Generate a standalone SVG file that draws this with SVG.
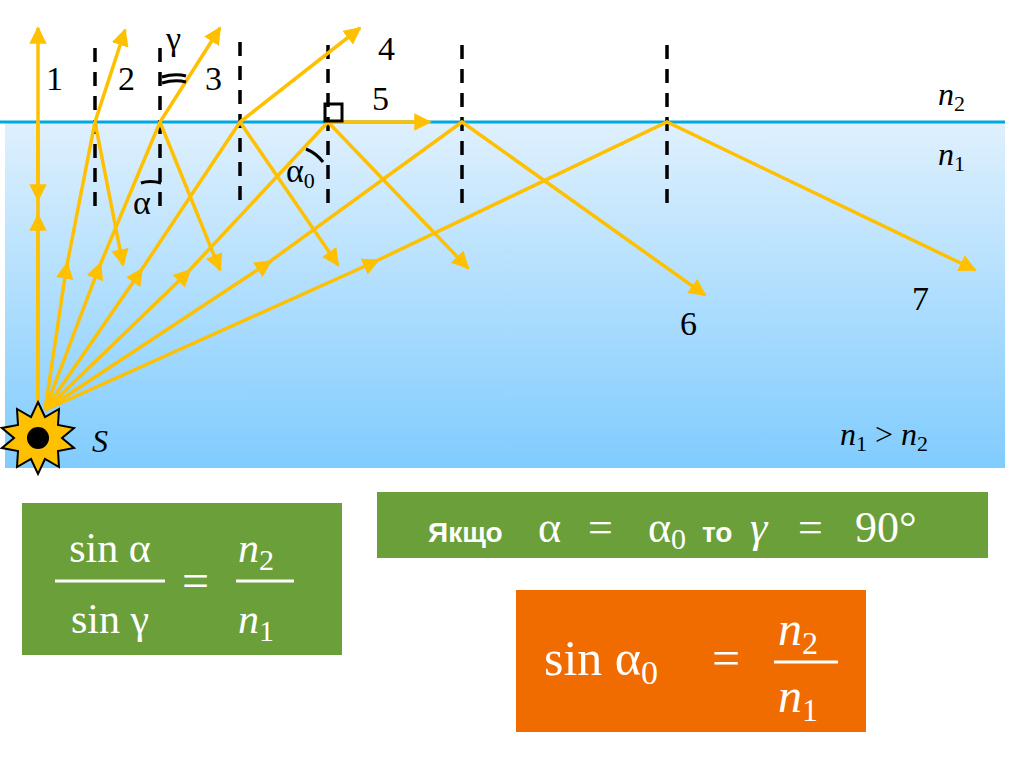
<svg xmlns="http://www.w3.org/2000/svg" width="1024" height="760" viewBox="0 0 1024 760">
<defs>
<linearGradient id="w" x1="0" y1="0" x2="0" y2="1"><stop offset="0" stop-color="#dff0fd"/><stop offset="1" stop-color="#80ccfe"/></linearGradient>
<marker id="a" viewBox="0 0 10 10" refX="9" refY="5" markerWidth="5" markerHeight="5" orient="auto" markerUnits="strokeWidth"><path d="M0,0L10,5L0,10z" fill="#ffc000"/></marker>
<marker id="m" viewBox="0 0 10 10" refX="5" refY="5" markerWidth="5" markerHeight="5" orient="auto" markerUnits="strokeWidth"><path d="M0,0L10,5L0,10z" fill="#ffc000"/></marker>
<style>
.r{stroke:#ffc000;stroke-width:3.5;fill:none}
.n{stroke:#000;stroke-width:3.5;stroke-dasharray:14,10}
.t{font-family:"Liberation Serif",serif;font-size:34px;fill:#000}
.i{font-family:"Liberation Serif",serif;font-style:italic;font-size:32px}
.w{fill:#fff;font-family:"Liberation Serif",serif}
.b{fill:#fff;font-family:"Liberation Sans",sans-serif;font-weight:bold;font-size:28px}
</style>
</defs>
<rect x="5" y="122" width="1000" height="346" fill="url(#w)"/>
<line x1="0" y1="122" x2="1005" y2="122" stroke="#00a8e0" stroke-width="3"/>
<g id="normals">
<line class="n" x1="95" y1="48" x2="95" y2="208"/>
<line class="n" x1="160" y1="48" x2="160" y2="208"/>
<line class="n" x1="240" y1="42" x2="240" y2="208"/>
<line class="n" x1="328" y1="45" x2="328" y2="208"/>
<line class="n" x1="462" y1="45" x2="462" y2="208"/>
<line class="n" x1="667" y1="45" x2="667" y2="208"/>
</g>
<g id="connectors">
<path class="r" d="M38,410V28" marker-end="url(#a)"/>
<path class="r" d="M38,122V200" marker-end="url(#a)"/>
<path class="r" d="M38,400V215" marker-end="url(#a)"/>
<path class="r" d="M45,410L66,270" marker-end="url(#m)"/><path class="r" d="M66,270L95,122L125,30" marker-end="url(#a)"/><path class="r" d="M95,122L123,265" marker-end="url(#a)"/>
<path class="r" d="M45,410L98,270" marker-end="url(#m)"/><path class="r" d="M98,270L160,122L220,28" marker-end="url(#a)"/><path class="r" d="M160,122L220,270" marker-end="url(#a)"/>
<path class="r" d="M45,410L138,275" marker-end="url(#m)"/><path class="r" d="M138,275L240,122L360,28" marker-end="url(#a)"/><path class="r" d="M240,122L338,265" marker-end="url(#a)"/>
<path class="r" d="M45,410L185,275" marker-end="url(#m)"/><path class="r" d="M185,275L328,122L430,122" marker-end="url(#a)"/><path class="r" d="M328,122L468,268" marker-end="url(#a)"/>
<path class="r" d="M45,410L265,265" marker-end="url(#m)"/><path class="r" d="M265,265L462,122L705,295" marker-end="url(#a)"/>
<path class="r" d="M45,410L372,263" marker-end="url(#m)"/><path class="r" d="M372,263L667,122L975,270" marker-end="url(#a)"/>
</g>
<g id="angles" fill="none" stroke="#000" stroke-width="3">
<path d="M141,183Q150,180 161,183"/>
<path d="M162,77Q175,73 186,76"/><path d="M162,83Q175,79 186,82"/>
<path d="M306,149Q316,153 323,162"/>
<rect x="325" y="104" width="17" height="17" stroke-width="3"/>
</g>
<g id="labels">
<text class="t" x="46" y="90">1</text><text class="t" x="118" y="90">2</text><text class="t" x="205" y="90">3</text>
<text class="t" x="378" y="60">4</text><text class="t" x="372" y="110">5</text>
<text class="t" x="680" y="335">6</text><text class="t" x="912" y="310">7</text>
<text class="t" x="166" y="50" font-size="26">γ</text>
<text class="t" x="133" y="214">α</text>
<text class="t" x="286" y="182">α<tspan font-size="22" dy="6">0</tspan></text>
<text class="i" x="938" y="105">n<tspan font-size="22" font-style="normal" dy="6">2</tspan></text>
<text class="i" x="938" y="165">n<tspan font-size="22" font-style="normal" dy="6">1</tspan></text>
<text class="i" x="840" y="445">n<tspan font-size="22" font-style="normal" dy="6">1</tspan><tspan dy="-6" font-style="normal"> &gt; </tspan>n<tspan font-size="22" font-style="normal" dy="6">2</tspan></text>
<text class="i" x="92" y="452">S</text>
</g>
<g id="source">
<polygon points="38,402 45,417 59,409 58,425 74,428 62,438 74,448 58,451 59,467 45,459 38,474 31,459 17,467 18,451 2,448 14,438 2,428 18,425 17,409 31,417" fill="#ffc000" stroke="#000" stroke-width="2"/>
<circle cx="38" cy="438" r="11" fill="#000"/>
</g>
<g id="box1">
<rect x="22" y="503" width="320" height="152" fill="#6a9f3a"/>
<text class="w" x="110" y="562" font-size="42" text-anchor="middle">sin α</text>
<line x1="55" y1="581" x2="165" y2="581" stroke="#fff" stroke-width="3"/>
<text class="w" x="110" y="633" font-size="42" text-anchor="middle">sin γ</text>
<text class="w" x="182" y="597" font-size="48">=</text>
<text class="w" x="238" y="562" font-size="42" font-style="italic">n<tspan font-size="30" font-style="normal" dy="8">2</tspan></text>
<line x1="236" y1="581" x2="294" y2="581" stroke="#fff" stroke-width="3"/>
<text class="w" x="238" y="633" font-size="42" font-style="italic">n<tspan font-size="30" font-style="normal" dy="8">1</tspan></text>
</g>
<g id="box2">
<rect x="377" y="492" width="611" height="66" fill="#6a9f3a"/>
<text class="b" x="428" y="542">Якщо</text>
<text class="w" x="538" y="542" font-size="44">α</text>
<text class="w" x="588" y="542" font-size="44">=</text>
<text class="w" x="648" y="542" font-size="44">α<tspan font-size="30" dy="7">0</tspan></text>
<text class="b" x="702" y="542">то</text>
<text class="w" x="750" y="542" font-size="44" font-style="italic">γ</text>
<text class="w" x="798" y="542" font-size="44">=</text>
<text class="w" x="855" y="542" font-size="44">90°</text>
</g>
<g id="box3">
<rect x="516" y="590" width="350" height="142" fill="#f06b00"/>
<text class="w" x="544" y="675" font-size="50">sin α<tspan font-size="34" dy="9">0</tspan></text>
<text class="w" x="712" y="675" font-size="50">=</text>
<text class="w" x="778" y="645" font-size="48" font-style="italic">n<tspan font-size="32" font-style="normal" dy="9">2</tspan></text>
<line x1="774" y1="662" x2="838" y2="662" stroke="#fff" stroke-width="3"/>
<text class="w" x="778" y="712" font-size="48" font-style="italic">n<tspan font-size="32" font-style="normal" dy="9">1</tspan></text>
</g>
</svg>
